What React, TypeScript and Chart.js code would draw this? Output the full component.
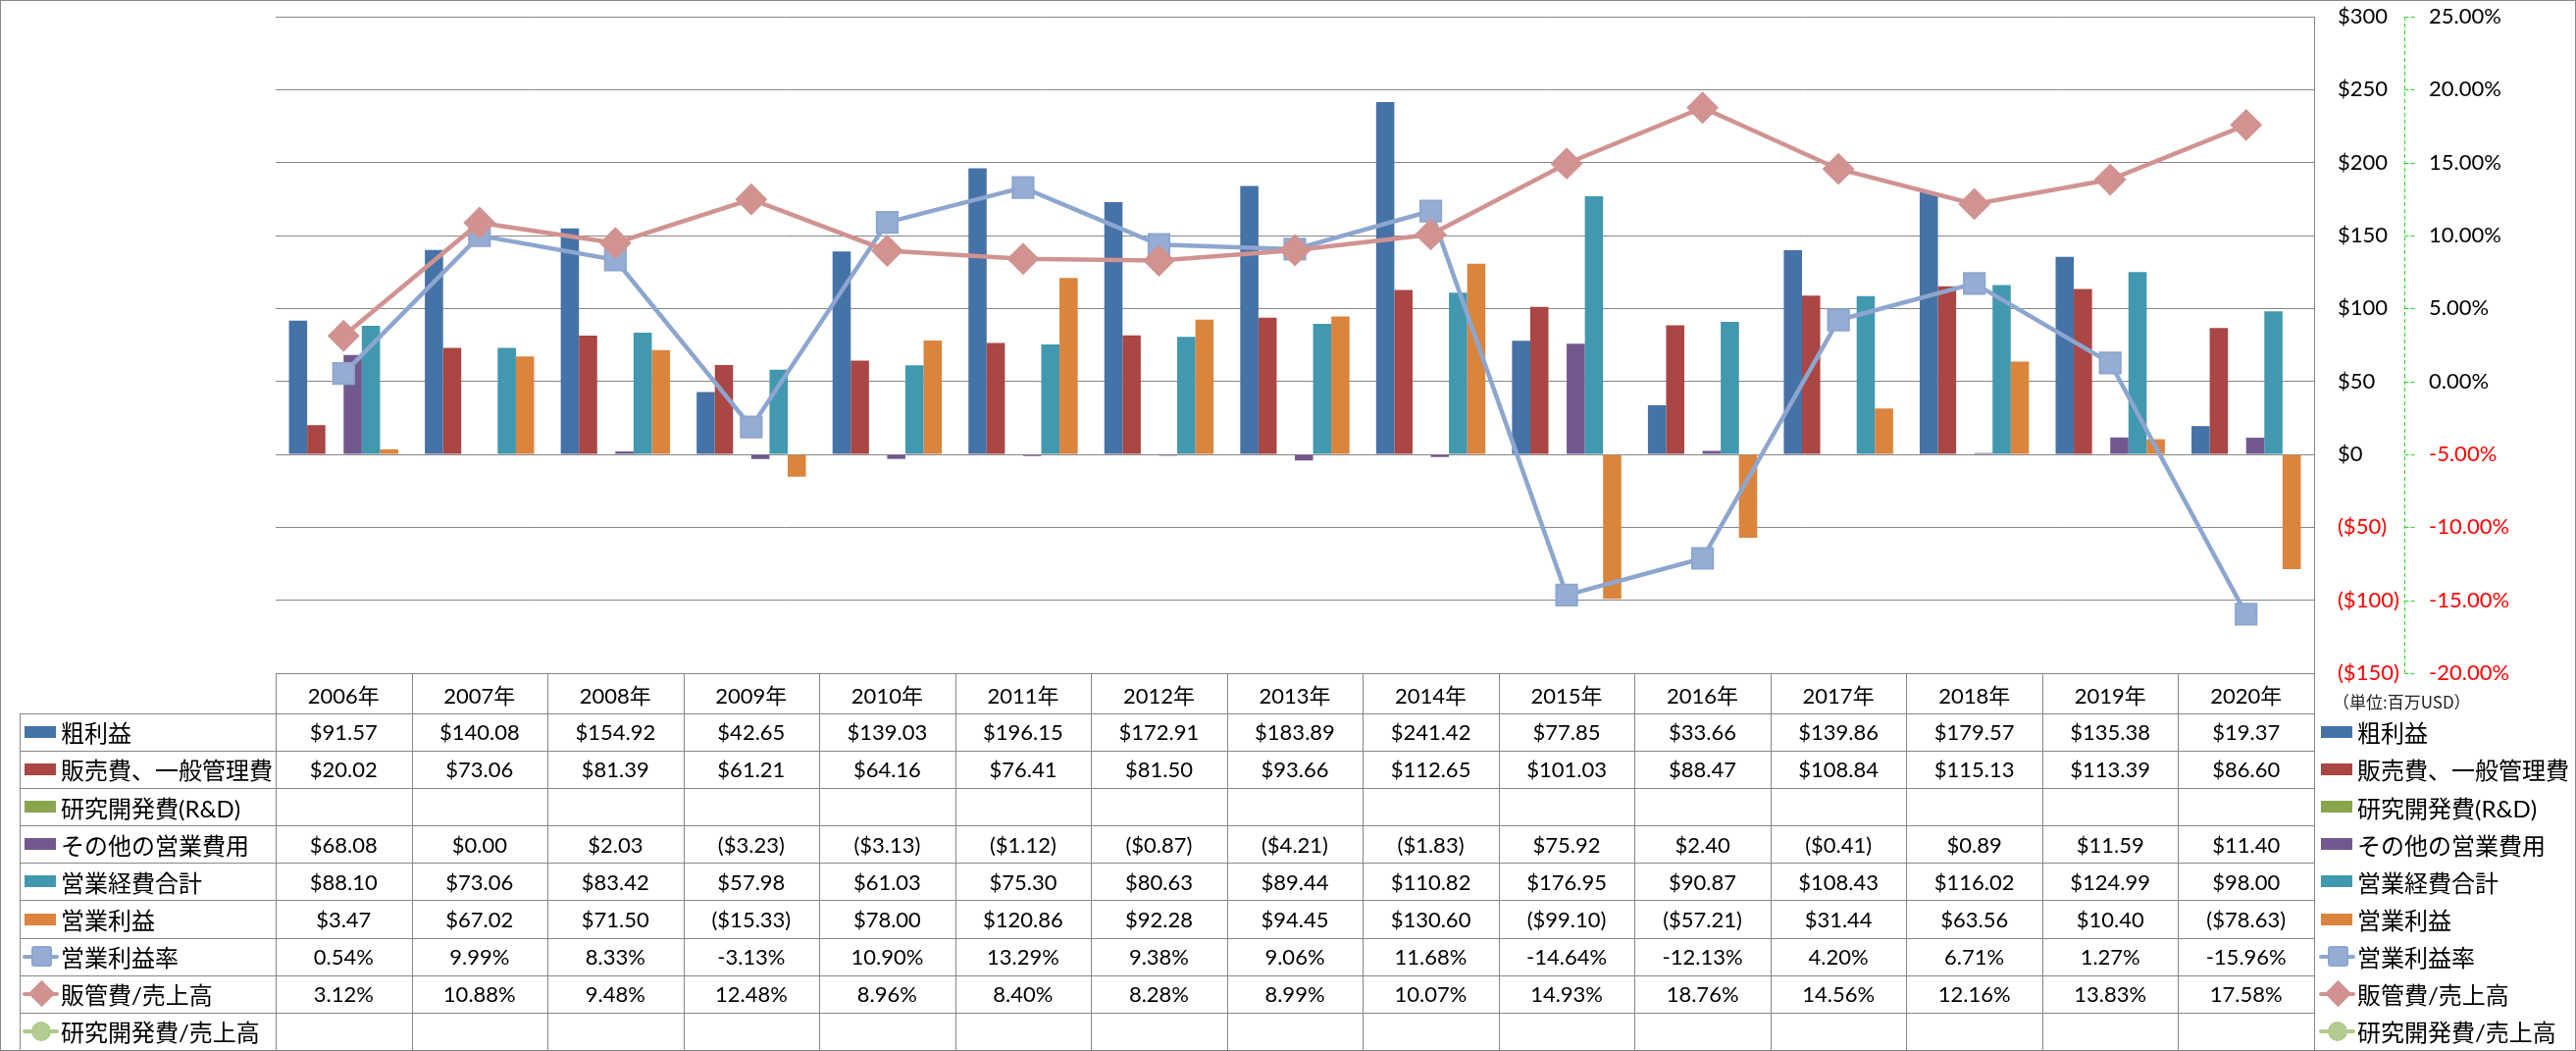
import React, { useEffect, useRef } from 'react';
import { Chart, registerables } from 'chart.js';

Chart.register(...registerables);

// ---------------- data ----------------
const years = ['2006年', '2007年', '2008年', '2009年', '2010年', '2011年', '2012年', '2013年', '2014年', '2015年', '2016年', '2017年', '2018年', '2019年', '2020年'];

const grossProfit = [91.57, 140.08, 154.92, 42.65, 139.03, 196.15, 172.91, 183.89, 241.42, 77.85, 33.66, 139.86, 179.57, 135.38, 19.37];
const sgaExpense = [20.02, 73.06, 81.39, 61.21, 64.16, 76.41, 81.5, 93.66, 112.65, 101.03, 88.47, 108.84, 115.13, 113.39, 86.6];
const rndExpense: (number | null)[] = [null, null, null, null, null, null, null, null, null, null, null, null, null, null, null];
const otherOpex = [68.08, 0.0, 2.03, -3.23, -3.13, -1.12, -0.87, -4.21, -1.83, 75.92, 2.4, -0.41, 0.89, 11.59, 11.4];
const totalOpex = [88.1, 73.06, 83.42, 57.98, 61.03, 75.3, 80.63, 89.44, 110.82, 176.95, 90.87, 108.43, 116.02, 124.99, 98.0];
const operatingIncome = [3.47, 67.02, 71.5, -15.33, 78.0, 120.86, 92.28, 94.45, 130.6, -99.1, -57.21, 31.44, 63.56, 10.4, -78.63];
const operatingMargin = [0.54, 9.99, 8.33, -3.13, 10.9, 13.29, 9.38, 9.06, 11.68, -14.64, -12.13, 4.2, 6.71, 1.27, -15.96];
const sgaRatio = [3.12, 10.88, 9.48, 12.48, 8.96, 8.4, 8.28, 8.99, 10.07, 14.93, 18.76, 14.56, 12.16, 13.83, 17.58];
const rndRatio: (number | null)[] = [null, null, null, null, null, null, null, null, null, null, null, null, null, null, null];

const usdAxis = { min: -150, max: 300, step: 50 };
const pctAxis = { min: -20, max: 25, step: 5 };
const unitLabel = '（単位:百万USD）';

type Row = {
  name: string;
  kind: 'bar' | 'line';
  color: string;
  fill?: string;
  marker?: 'rect' | 'rectRot' | 'circle';
  values: (number | null)[];
  fmt: 'usd' | 'pct';
};

const rows: Row[] = [
  { name: '粗利益', kind: 'bar', color: '#4572A7', values: grossProfit, fmt: 'usd' },
  { name: '販売費、一般管理費', kind: 'bar', color: '#AA4643', values: sgaExpense, fmt: 'usd' },
  { name: '研究開発費(R&D)', kind: 'bar', color: '#89A54E', values: rndExpense, fmt: 'usd' },
  { name: 'その他の営業費用', kind: 'bar', color: '#71588F', values: otherOpex, fmt: 'usd' },
  { name: '営業経費合計', kind: 'bar', color: '#4198AF', values: totalOpex, fmt: 'usd' },
  { name: '営業利益', kind: 'bar', color: '#DB843D', values: operatingIncome, fmt: 'usd' },
  { name: '営業利益率', kind: 'line', color: '#8DA6CF', fill: '#95ADD4', marker: 'rect', values: operatingMargin, fmt: 'pct' },
  { name: '販管費/売上高', kind: 'line', color: '#D09391', fill: '#D29290', marker: 'rectRot', values: sgaRatio, fmt: 'pct' },
  { name: '研究開発費/売上高', kind: 'line', color: '#B0CA8C', fill: '#B3CC90', marker: 'circle', values: rndRatio, fmt: 'pct' },
];

// ---------------- layout ----------------
const W = 2626;
const H = 1071;
const PLOT_L = 281;
const PLOT_R = 2359;
const PLOT_T = 15;
const PLOT_B = 686;
const USD_AXIS_W = 92;
const PCT_AXIS_W = W - PLOT_R - USD_AXIS_W;
const COL_W = (PLOT_R - PLOT_L) / years.length;
const ROW_TOP0 = 726.7;
const ROW_H = 38.15;
const GRID = '#878787';
const LINE_ORDER: Record<string, number> = { '販管費/売上高': 0, '営業利益率': 1, '研究開発費/売上高': 2 };

const fmtValue = (v: number | null, f: 'usd' | 'pct') => {
  if (v === null || v === undefined) return '';
  if (f === 'pct') return `${v.toFixed(2)}%`;
  return v < 0 ? `($${(-v).toFixed(2)})` : `$${v.toFixed(2)}`;
};

const greenAxisPlugin = {
  id: 'greenAxis',
  afterDraw(chart: any) {
    const s = chart.scales.y1;
    const ctx = chart.ctx;
    ctx.save();
    ctx.strokeStyle = '#22DD22';
    ctx.lineWidth = 1;
    ctx.setLineDash([4, 3]);
    const x = Math.round(s.left) + 0.5;
    ctx.beginPath();
    ctx.moveTo(x, s.top);
    ctx.lineTo(x, s.bottom);
    ctx.stroke();
    ctx.setLineDash([4, 2]);
    s.ticks.forEach((t: any) => {
      const y = Math.round(s.getPixelForValue(t.value)) + 0.5;
      ctx.beginPath();
      ctx.moveTo(x, y);
      ctx.lineTo(x + 10, y);
      ctx.stroke();
    });
    ctx.restore();
  },
};

function Key({ row, x, yc }: { row: Row; x: number; yc: number }) {
  if (row.kind === 'bar') {
    return <div style={{ position: 'absolute', left: x, top: yc - 6, width: 32, height: 12, background: row.color }} />;
  }
  const cx = x + 17;
  const parts: any[] = [
    <div key="l" style={{ position: 'absolute', left: x - 2, top: yc - 2, width: 37, height: 4, background: row.color, borderRadius: 2 }} />,
  ];
  if (row.marker === 'rect') {
    parts.push(<div key="m" style={{ position: 'absolute', left: cx - 10.5, top: yc - 10.5, width: 21, height: 21, boxSizing: 'border-box', background: row.fill, border: `2px solid ${row.color}`, borderRadius: 3 }} />);
  } else if (row.marker === 'rectRot') {
    parts.push(<div key="m" style={{ position: 'absolute', left: cx - 9.5, top: yc - 9.5, width: 19, height: 19, boxSizing: 'border-box', background: row.fill, border: `2px solid ${row.color}`, transform: 'rotate(45deg)' }} />);
  } else {
    parts.push(<div key="m" style={{ position: 'absolute', left: cx - 10, top: yc - 10, width: 20, height: 20, boxSizing: 'border-box', background: row.fill, border: `2px solid ${row.color}`, borderRadius: '50%' }} />);
  }
  return <>{parts}</>;
}

export default function App() {
  const ref = useRef<HTMLCanvasElement | null>(null);

  useEffect(() => {
    if (!ref.current) return;
    const datasets: any[] = rows.map((r) => {
      if (r.kind === 'bar') {
        return {
          type: 'bar',
          label: r.name,
          data: r.values,
          backgroundColor: r.color,
          borderWidth: 0,
          yAxisID: 'y',
          categoryPercentage: 0.804,
          barPercentage: 1.0,
          order: 10,
        };
      }
      return {
        type: 'line',
        label: r.name,
        data: r.values,
        yAxisID: 'y1',
        borderColor: r.color,
        borderWidth: 4.5,
        pointStyle: r.marker,
        pointRadius: 15,
        pointBackgroundColor: r.fill,
        pointBorderColor: r.color,
        pointBorderWidth: 2,
        tension: 0,
        fill: false,
        order: LINE_ORDER[r.name],
      };
    });

    const noPad = (s: any, w: number) => {
      s.width = w;
      s.paddingTop = 0;
      s.paddingBottom = 0;
    };

    const chart = new Chart(ref.current, {
      type: 'bar',
      data: { labels: years, datasets },
      plugins: [greenAxisPlugin],
      options: {
        animation: false,
        responsive: false,
        devicePixelRatio: 1,
        layout: { padding: { left: PLOT_L, right: 0, top: PLOT_T, bottom: H - PLOT_B } },
        plugins: { legend: { display: false }, tooltip: { enabled: false } },
        scales: {
          x: { type: 'category', display: false, offset: true, grid: { display: false } },
          y: {
            type: 'linear',
            position: 'right',
            weight: 0,
            min: usdAxis.min,
            max: usdAxis.max,
            ticks: {
              stepSize: usdAxis.step,
              padding: 24,
              font: { family: 'Lato', size: 22 },
              color: (c: any) => (c.tick && c.tick.value < 0 ? '#FF0000' : '#000000'),
              callback: (v: any) => (v < 0 ? `($${-v})` : `$${v}`),
            },
            grid: { color: GRID, lineWidth: 1, drawTicks: false },
            border: { display: true, color: GRID, width: 1 },
            afterFit: (s: any) => noPad(s, USD_AXIS_W),
          },
          y1: {
            type: 'linear',
            position: 'right',
            weight: 1,
            min: pctAxis.min,
            max: pctAxis.max,
            ticks: {
              stepSize: pctAxis.step,
              padding: 25,
              font: { family: 'Lato', size: 22 },
              color: (c: any) => (c.tick && c.tick.value < 0 ? '#FF0000' : '#000000'),
              callback: (v: any) => `${Number(v).toFixed(2)}%`,
            },
            grid: { drawOnChartArea: false, drawTicks: false },
            border: { display: false },
            afterFit: (s: any) => noPad(s, PCT_AXIS_W),
          },
        },
      } as any,
    });
    return () => chart.destroy();
  }, []);

  const colX = (i: number) => PLOT_L + i * COL_W;
  const rowTop = (k: number) => ROW_TOP0 + k * ROW_H;
  const textFont = "Lato, 'Noto Sans CJK JP', sans-serif";
  const jpFont = "Lato, 'Noto Sans CJK JP', sans-serif";

  const lines: any[] = [];
  for (let k = 0; k <= rows.length; k++) {
    lines.push(<div key={`h${k}`} style={{ position: 'absolute', left: 20, top: Math.round(rowTop(k)), width: PLOT_R - 20 + 1, height: 1, background: GRID }} />);
  }
  lines.push(<div key="htop" style={{ position: 'absolute', left: PLOT_L, top: PLOT_B, width: PLOT_R - PLOT_L + 1, height: 1, background: GRID }} />);
  lines.push(<div key="v-left" style={{ position: 'absolute', left: 20, top: Math.round(rowTop(0)), width: 1, height: Math.round(rowTop(rows.length)) - Math.round(rowTop(0)), background: GRID }} />);
  for (let i = 0; i <= years.length; i++) {
    lines.push(<div key={`v${i}`} style={{ position: 'absolute', left: Math.round(colX(i)), top: PLOT_B, width: 1, height: Math.round(rowTop(rows.length)) - PLOT_B, background: GRID }} />);
  }

  const cells: any[] = [];
  years.forEach((y, i) => {
    cells.push(
      <div key={`hd${i}`} style={{ position: 'absolute', left: colX(i), top: PLOT_B + 1, width: COL_W, height: rowTop(0) - PLOT_B - 1, display: 'flex', alignItems: 'center', justifyContent: 'center', font: `22px ${textFont}`, color: '#000', whiteSpace: 'nowrap' }}>
        {y}
      </div>
    );
  });
  rows.forEach((r, k) => {
    const top = rowTop(k);
    const yc = top + ROW_H / 2;
    cells.push(<Key key={`kl${k}`} row={r} x={25} yc={yc} />);
    cells.push(
      <div key={`lb${k}`} style={{ position: 'absolute', left: 62, top, height: ROW_H, display: 'flex', alignItems: 'center', font: `24px ${jpFont}`, color: '#000', whiteSpace: 'nowrap' }}>
        {r.name}
      </div>
    );
    r.values.forEach((v, i) => {
      cells.push(
        <div key={`c${k}_${i}`} style={{ position: 'absolute', left: colX(i), top, width: COL_W, height: ROW_H, display: 'flex', alignItems: 'center', justifyContent: 'center', font: `22px ${textFont}`, color: '#000', whiteSpace: 'nowrap' }}>
          {fmtValue(v, r.fmt)}
        </div>
      );
    });
    cells.push(<Key key={`kr${k}`} row={r} x={2366} yc={yc} />);
    cells.push(
      <div key={`lg${k}`} style={{ position: 'absolute', left: 2403, top, height: ROW_H, display: 'flex', alignItems: 'center', font: `24px ${jpFont}`, color: '#000', whiteSpace: 'nowrap' }}>
        {r.name}
      </div>
    );
  });

  return (
    <div style={{ position: 'absolute', left: 0, top: 0, width: W, height: H, background: '#FFFFFF', overflow: 'hidden' }}>
      <canvas ref={ref} width={W} height={H} style={{ position: 'absolute', left: 0, top: 0, width: W, height: H }} />
      {lines}
      {cells}
      <div style={{ position: 'absolute', left: 2378, top: 702, font: "17px 'Noto Sans CJK JP', sans-serif", color: '#222', whiteSpace: 'nowrap' }}>{unitLabel}</div>
      <div style={{ position: 'absolute', left: 0, top: 0, width: W, height: H, boxSizing: 'border-box', border: `1px solid ${GRID}`, pointerEvents: 'none' }} />
    </div>
  );
}
